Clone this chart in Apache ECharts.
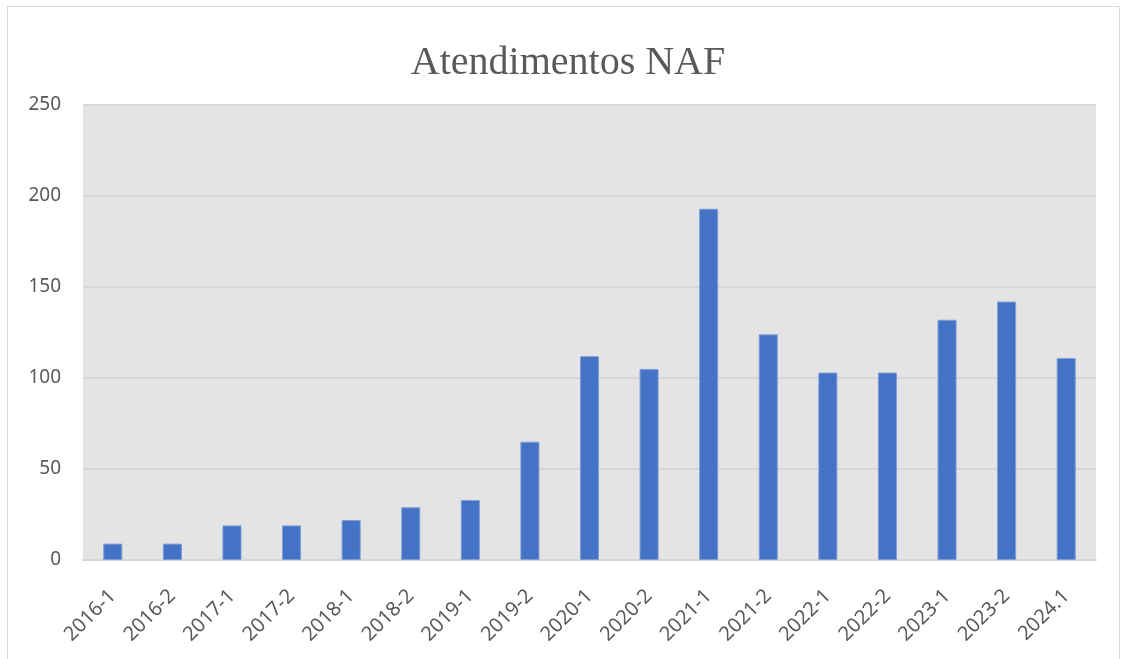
<!DOCTYPE html>
<html>
<head>
<meta charset="utf-8">
<script src="https://cdn.jsdelivr.net/npm/echarts@6/dist/echarts.min.js"></script>
<style>
  html, body { margin: 0; padding: 0; background: #ffffff; }
  #frame { position: absolute; left: 7px; top: 6px; width: 1113px; height: 660px; border: 1px solid #d9d9d9; box-sizing: border-box; }
  #chart { position: absolute; left: 0; top: 0; width: 1123px; height: 659px; }
</style>
</head>
<body>
<div id="frame"></div>
<div id="chart"></div>
<script>
const categories = ["2016-1","2016-2","2017-1","2017-2","2018-1","2018-2","2019-1","2019-2","2020-1","2020-2","2021-1","2021-2","2022-1","2022-2","2023-1","2023-2","2024.1"];
const atendimentos = [9, 9, 19, 19, 22, 29, 33, 65, 112, 105, 193, 124, 103, 103, 132, 142, 111];
const yTicks = { min: 0, max: 250, interval: 50 };
const titleText = "Atendimentos NAF";

const chart = echarts.init(document.getElementById('chart'), null, { renderer: 'canvas' });
chart.setOption({
  animation: false,
  backgroundColor: 'transparent',
  title: {
    text: titleText,
    left: 563,
    textAlign: 'center',
    top: 38,
    textStyle: { fontFamily: '"Liberation Serif", "DejaVu Serif", serif', fontSize: 40, fontWeight: 'normal', color: '#595959' }
  },
  grid: { left: 83, right: 27, top: 105, bottom: 99, containLabel: false, show: true, backgroundColor: '#e4e4e4', borderWidth: 0 },
  xAxis: {
    type: 'category',
    data: categories,
    axisLine: { show: true, lineStyle: { color: '#d6d6d6', width: 2 } },
    axisTick: { show: false },
    axisLabel: { rotate: 45, fontFamily: '"Noto Sans", "Open Sans", sans-serif', fontSize: 20, color: '#595959', margin: 33, interval: 0 }
  },
  yAxis: {
    type: 'value',
    min: yTicks.min, max: yTicks.max, interval: yTicks.interval,
    axisLine: { show: false },
    axisTick: { show: false },
    splitLine: { show: true, lineStyle: { color: '#d6d6d6', width: 2 } },
    axisLabel: { fontFamily: '"Noto Sans", "Open Sans", sans-serif', fontSize: 19, color: '#595959', margin: 22 }
  },
  series: [{
    type: 'bar',
    data: atendimentos,
    barWidth: '32%',
    itemStyle: { color: '#4472c4', borderColor: '#7f9fd6', borderWidth: 1 }
  }]
});
</script>
</body>
</html>
